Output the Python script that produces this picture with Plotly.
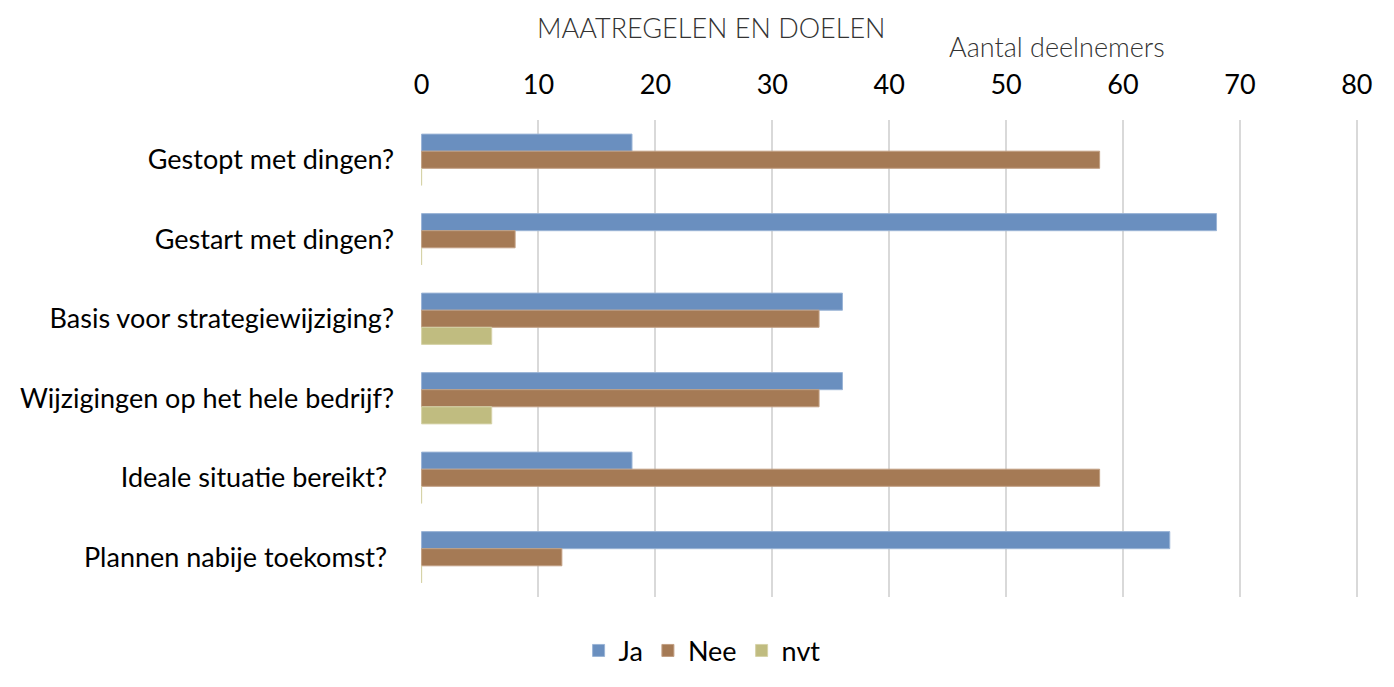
import plotly.graph_objects as go

categories = [
    "Gestopt met dingen?",
    "Gestart met dingen?",
    "Basis voor strategiewijziging?",
    "Wijzigingen op het hele bedrijf?",
    "Ideale situatie bereikt? ",
    "Plannen nabije toekomst? ",
]
ja = [18, 68, 36, 36, 18, 64]
nee = [58, 8, 34, 34, 58, 12]
nvt = [0, 0, 6, 6, 0, 0]
x_ticks = [0, 10, 20, 30, 40, 50, 60, 70, 80]

series = [("Ja", ja, "#6a8fbf", "#9ab4d6"),
          ("Nee", nee, "#a57a55", "#c19f82"),
          ("nvt", nvt, "#c0bc80", "#d6d3a8")]

FONT = "Lato"
FS = 27

fig = go.Figure()
for name, vals, col, lcol in series:
    fig.add_trace(go.Bar(
        y=categories, x=vals, name=name, orientation="h",
        marker=dict(color=col, line=dict(color=lcol, width=1)),
    ))

fig.update_layout(
    width=1394, height=687,
    paper_bgcolor="white", plot_bgcolor="white",
    barmode="group", bargap=0.355, bargroupgap=0,
    margin=dict(l=409, r=44, t=112, b=98),
    font=dict(family=FONT, size=FS, color="#000000"),
    showlegend=True,
    legend=dict(orientation="h", x=0.3, y=-0.113, xanchor="center", yanchor="middle",
                font=dict(family=FONT, size=FS, color="#000000"), traceorder="normal",
                itemwidth=30),
    xaxis=dict(
        side="top", range=[-0.05, 80.1], tickvals=x_ticks, ticktext=[str(t) for t in x_ticks],
        showgrid=True, gridcolor="#d9d9d9", gridwidth=2, zeroline=False,
        showline=False, ticks="", tickfont=dict(family=FONT, size=FS, color="#000000"),
        ticklabelstandoff=20,
    ),
    yaxis=dict(
        autorange="reversed", showgrid=False, zeroline=False, showline=False, ticks="",
        tickfont=dict(family=FONT, size=FS, color="#000000"), ticklabelstandoff=26,
    ),
    annotations=[
        dict(text="MAATREGELEN EN DOELEN", xref="paper", yref="paper", x=0.31, y=1.193,
             xanchor="center", yanchor="middle", showarrow=False,
             font=dict(family=FONT, size=FS, color="#333333", weight=300)),
        dict(text="Aantal deelnemers", xref="paper", yref="paper", x=0.679, y=1.155,
             xanchor="center", yanchor="middle", showarrow=False,
             font=dict(family=FONT, size=FS, color="#333333", weight=300)),
    ],
)

fig.write_html("out.html")
